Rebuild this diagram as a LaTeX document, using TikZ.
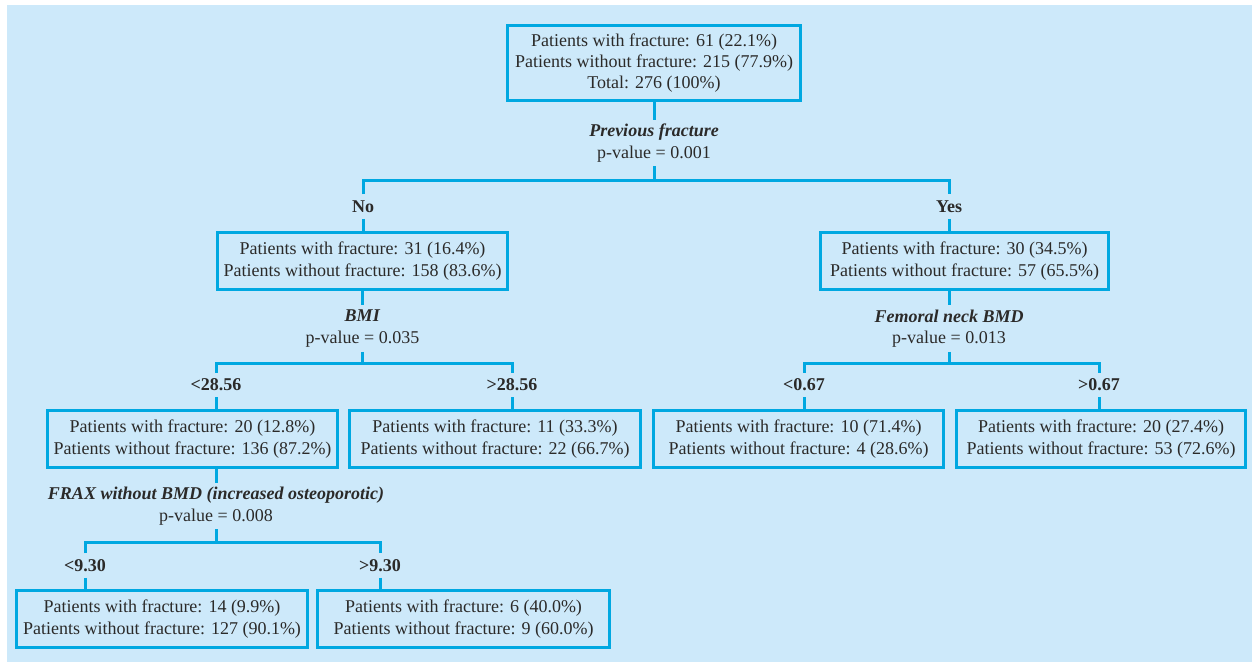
\documentclass[tikz,border=0pt]{standalone}
\usepackage{fontspec}
\setmainfont{Liberation Serif}
\definecolor{bgblue}{HTML}{CDE9FA}
\definecolor{lineblue}{HTML}{00A8E1}
\definecolor{txt}{HTML}{2B2A29}
\begin{document}
\begin{tikzpicture}[x=0.75pt,y=-0.75pt,
  every node/.style={text=txt, font=\fontsize{13.5}{16}\selectfont},
  box/.style={draw=lineblue, line width=2.25pt, inner sep=0pt, align=center, minimum height=42.75pt},
  split/.style={inner sep=0pt, align=center, minimum height=34.5pt},
  branch/.style={inner sep=0pt, minimum height=18pt, font=\fontsize{13.5}{16}\selectfont\bfseries},
  conn/.style={draw=lineblue, line width=2.25pt}]
\useasboundingbox (0,0) rectangle (1252,662);
\fill[white] (0,0) rectangle (1252,662);
\fill[bgblue] (7,5) rectangle (1252,662);

% boxes
\node[box, minimum width=219.75pt, minimum height=56.25pt] (root) at (654,63)
  {Patients with fracture: 61 (22.1\%)\\Patients without fracture: 215 (77.9\%)\\Total: 276 (100\%)};
\node[box, minimum width=217.5pt] (no) at (362.5,261)
  {Patients with fracture: 31 (16.4\%)\\Patients without fracture: 158 (83.6\%)};
\node[box, minimum width=216pt] (yes) at (964.5,261)
  {Patients with fracture: 30 (34.5\%)\\Patients without fracture: 57 (65.5\%)};
\node[box, minimum width=217.5pt] (a) at (192.5,439)
  {Patients with fracture: 20 (12.8\%)\\Patients without fracture: 136 (87.2\%)};
\node[box, minimum width=218.25pt] (b) at (495,439)
  {Patients with fracture: 11 (33.3\%)\\Patients without fracture: 22 (66.7\%)};
\node[box, minimum width=217.5pt] (c) at (798.5,439)
  {Patients with fracture: 10 (71.4\%)\\Patients without fracture: 4 (28.6\%)};
\node[box, minimum width=216.75pt] (d) at (1101,439)
  {Patients with fracture: 20 (27.4\%)\\Patients without fracture: 53 (72.6\%)};
\node[box, minimum width=218.25pt] (e) at (162,619)
  {Patients with fracture: 14 (9.9\%)\\Patients without fracture: 127 (90.1\%)};
\node[box, minimum width=219pt] (f) at (463.5,619)
  {Patients with fracture: 6 (40.0\%)\\Patients without fracture: 9 (60.0\%)};

% split labels
\node[split] (s1) at (654,143) {\textbf{\textit{Previous fracture}}\\p-value = 0.001};
\node[split] (s2) at (362.5,328.5) {\textbf{\textit{BMI}}\\p-value = 0.035};
\node[split] (s3) at (949,328.5) {\textbf{\textit{Femoral neck BMD}}\\p-value = 0.013};
\node[split] (s4) at (216,506) {\textbf{\textit{FRAX without BMD (increased osteoporotic)}}\\p-value = 0.008};

% branch labels
\node[branch] (lno) at (363,206.5) {No};
\node[branch] (lyes) at (949,206.5) {Yes};
\node[branch] (l1) at (216,385) {<28.56};
\node[branch] (l2) at (512,385) {>28.56};
\node[branch] (l3) at (804,385) {<0.67};
\node[branch] (l4) at (1099,385) {>0.67};
\node[branch] (l5) at (85,565.5) {<9.30};
\node[branch] (l6) at (380,565.5) {>9.30};

% bar coordinates
\coordinate (b1) at (654,180);
\coordinate (b2) at (362.5,363);
\coordinate (b3) at (949,363);
\coordinate (b4) at (216,542);

% connectors
\draw[conn] (root.south) -- (s1.north);
\draw[conn] (s1.south) -- (b1);
\draw[conn] (lno.north) |- (b1) -| (lyes.north);
\draw[conn] (lno.south) -- (lno.south |- no.north);
\draw[conn] (lyes.south) -- (lyes.south |- yes.north);

\draw[conn] (no.south) -- (s2.north);
\draw[conn] (s2.south) -- (b2);
\draw[conn] (l1.north) |- (b2) -| (l2.north);
\draw[conn] (l1.south) -- (l1.south |- a.north);
\draw[conn] (l2.south) -- (l2.south |- b.north);

\draw[conn] (s3.north |- yes.south) -- (s3.north);
\draw[conn] (s3.south) -- (b3);
\draw[conn] (l3.north) |- (b3) -| (l4.north);
\draw[conn] (l3.south) -- (l3.south |- c.north);
\draw[conn] (l4.south) -- (l4.south |- d.north);

\draw[conn] (s4.north |- a.south) -- (s4.north);
\draw[conn] (s4.south) -- (b4);
\draw[conn] (l5.north) |- (b4) -| (l6.north);
\draw[conn] (l5.south) -- (l5.south |- e.north);
\draw[conn] (l6.south) -- (l6.south |- f.north);
\end{tikzpicture}
\end{document}
